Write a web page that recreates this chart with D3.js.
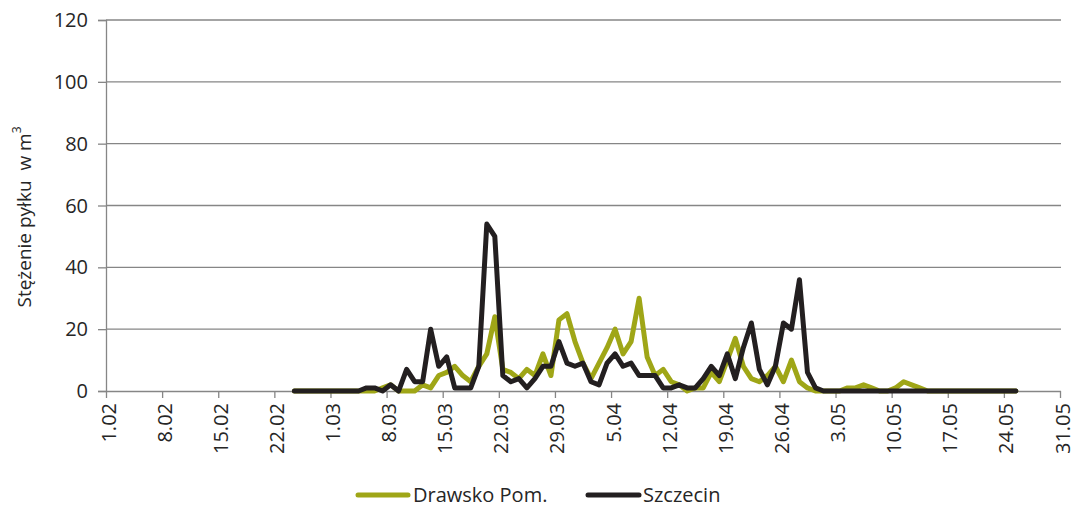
<!DOCTYPE html>
<html>
<head>
<meta charset="utf-8">
<script src="https://cdn.jsdelivr.net/npm/d3@7/dist/d3.min.js"></script>
<style>
  html, body { margin: 0; padding: 0; background: #ffffff; }
  svg { display: block; font-family: "Open Sans", sans-serif; }
</style>
</head>
<body>
<svg id="chart" width="1072" height="506"></svg>
<script>
// ---- Data ----
const seriesNames = ["Drawsko Pom.", "Szczecin"];
const seriesColors = ["#9fa617", "#231f20"];
// daily values from 24.02 to 25.05
const seriesStart = "2023-02-24";
const drawsko = [
  0,0,0,0,0,0,0,0,0,            // 24.02 - 4.03
  0,0,1,2,0,0,0,2,1,5,          // 5.03 - 14.03
  6,8,5,3,8,12,24,7,6,4,        // 15.03 - 24.03
  7,5,12,5,23,25,16,9,4,9,      // 25.03 - 3.04
  14,20,12,16,30,11,5,7,3,2,    // 4.04 - 13.04
  0,1,1,6,3,10,17,8,4,3,        // 14.04 - 23.04
  5,8,3,10,3,1,0,0,0,0,         // 24.04 - 3.05
  1,1,2,1,0,0,1,3,2,1,          // 4.05 - 13.05
  0,0,0,0,0,0,0,0,0,0,0,0       // 14.05 - 25.05
];
const szczecin = [
  0,0,0,0,0,0,0,0,0,            // 24.02 - 4.03
  1,1,0,2,0,7,3,3,20,8,         // 5.03 - 14.03
  11,1,1,1,8,54,50,5,3,4,       // 15.03 - 24.03
  1,4,8,8,16,9,8,9,3,2,         // 25.03 - 3.04
  9,12,8,9,5,5,5,1,1,2,         // 4.04 - 13.04
  1,1,4,8,5,12,4,14,22,7,       // 14.04 - 23.04
  2,8,22,20,36,6,1,0,0,0,       // 24.04 - 3.05
  0,0,0,0,0,0,0,0,0,0,          // 4.05 - 13.05
  0,0,0,0,0,0,0,0,0,0,0,0       // 14.05 - 25.05
];
const yTicks = [0, 20, 40, 60, 80, 100, 120];
const xTickDates = ["2023-02-01","2023-02-08","2023-02-15","2023-02-22","2023-03-01","2023-03-08",
  "2023-03-15","2023-03-22","2023-03-29","2023-04-05","2023-04-12","2023-04-19","2023-04-26",
  "2023-05-03","2023-05-10","2023-05-17","2023-05-24","2023-05-31"];
const xTickLabels = ["1.02","8.02","15.02","22.02","1.03","8.03","15.03","22.03","29.03","5.04",
  "12.04","19.04","26.04","3.05","10.05","17.05","24.05","31.05"];
const yTitle = "Stężenie pyłku  w m";
const yTitleSup = "3";

// ---- Layout ----
const svg = d3.select("#chart");
const plotLeft = 106, plotRight = 1061, plotTop = 20, plotBottom = 391;
const parse = d3.utcParse("%Y-%m-%d");
const x = d3.scaleUtc()
  .domain([parse("2023-02-01"), parse("2023-05-31")])
  .range([plotLeft, 1060]);
const y = d3.scaleLinear().domain([0, 120]).range([plotBottom, plotTop]);

const axisColor = "#868686";
const textColor = "#262626";

// gridlines
svg.append("g").selectAll("line").data(yTicks.filter(v => v > 0)).join("line")
  .attr("x1", plotLeft).attr("x2", plotRight)
  .attr("y1", d => y(d)).attr("y2", d => y(d))
  .attr("stroke", axisColor).attr("stroke-width", 1.3);

// y axis
const yAxis = svg.append("g").attr("transform", `translate(${plotLeft},0)`)
  .call(d3.axisLeft(y).tickValues(yTicks).tickSize(8).tickPadding(10).tickFormat(d3.format("d")));
yAxis.select(".domain").attr("stroke", axisColor).attr("stroke-width", 1.3);
yAxis.selectAll(".tick line").attr("stroke", axisColor).attr("stroke-width", 1.3);
yAxis.selectAll(".tick text").attr("fill", textColor).attr("font-size", 20)
  .attr("font-family", "Open Sans").attr("dy", "0.33em");

// x axis
const xDates = xTickDates.map(parse);
const xAxis = svg.append("g").attr("transform", `translate(0,${plotBottom})`)
  .call(d3.axisBottom(x).tickValues(xDates).tickSize(7)
    .tickFormat((d, i) => xTickLabels[i]));
xAxis.select(".domain").attr("stroke", axisColor).attr("stroke-width", 1.3)
  .attr("d", `M${plotLeft},0.5H${plotRight}`);
xAxis.selectAll(".tick line").attr("stroke", axisColor).attr("stroke-width", 1.3);
xAxis.selectAll(".tick text")
  .attr("fill", textColor).attr("font-size", 20).attr("font-family", "Open Sans")
  .attr("transform", "rotate(-90)")
  .attr("text-anchor", "end")
  .attr("x", -12).attr("y", 0).attr("dy", "0.45em");

// series
const startDate = parse(seriesStart);
function toPoints(vals) {
  return vals.map((v, i) => ({ date: d3.utcHour.offset(d3.utcDay.offset(startDate, i), 12), v }));
}
const line = d3.line().x(d => x(d.date)).y(d => y(d.v));
[drawsko, szczecin].forEach((vals, k) => {
  svg.append("path").datum(toPoints(vals))
    .attr("d", line)
    .attr("fill", "none")
    .attr("stroke", seriesColors[k])
    .attr("stroke-width", 5)
    .attr("stroke-linejoin", "round")
    .attr("stroke-linecap", "round");
});

// y title
const yt = svg.append("text")
  .attr("transform", "translate(31,217) rotate(-90)")
  .attr("text-anchor", "middle")
  .style("white-space", "pre")
  .attr("fill", textColor).attr("font-size", 19).attr("font-family", "Open Sans");
yt.append("tspan").text(yTitle);
yt.append("tspan").attr("font-size", 12).attr("dy", "-0.8em").text(yTitleSup);

// legend
const legendItems = [
  { name: seriesNames[0], color: seriesColors[0], x1: 358, x2: 408, tx: 413 },
  { name: seriesNames[1], color: seriesColors[1], x1: 588, x2: 639, tx: 643 }
];
const lg = svg.append("g");
legendItems.forEach(it => {
  lg.append("line").attr("x1", it.x1).attr("x2", it.x2).attr("y1", 495).attr("y2", 495)
    .attr("stroke", it.color).attr("stroke-width", 5).attr("stroke-linecap", "round");
  lg.append("text").attr("x", it.tx).attr("y", 502).attr("fill", textColor)
    .attr("font-size", 20).attr("font-family", "Open Sans").text(it.name);
});
</script>
</body>
</html>
